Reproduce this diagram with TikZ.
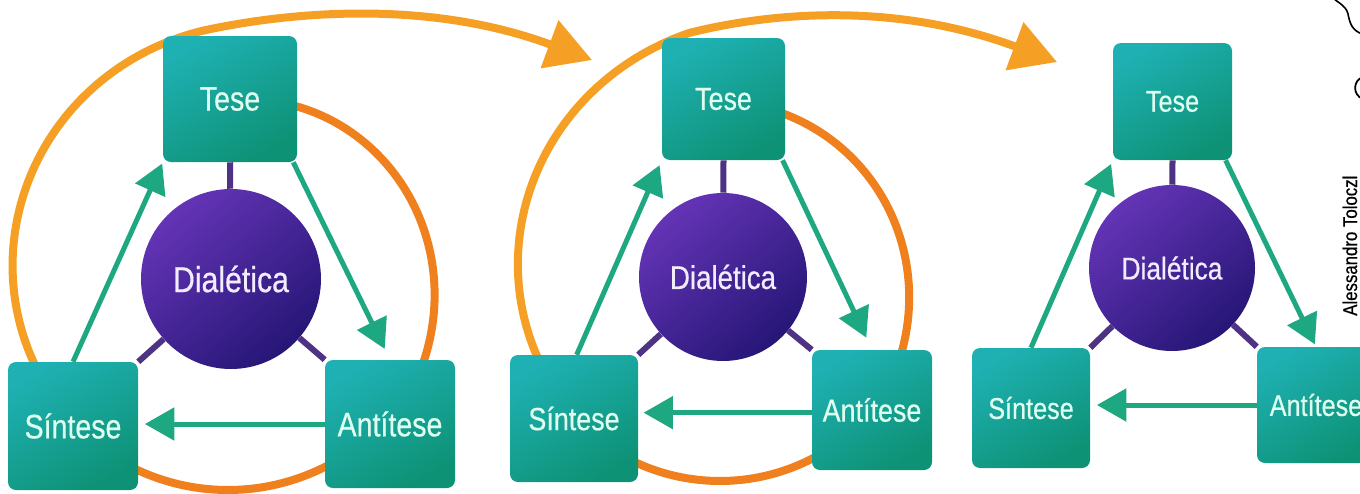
\documentclass[tikz,border=0pt]{standalone}
\usepackage{fontspec}
\setmainfont{Liberation Sans}[FakeStretch=0.84,FakeBold=0.5]
\usetikzlibrary{arrows.meta}
\definecolor{tealA}{RGB}{30,176,178}
\definecolor{tealB}{RGB}{14,146,118}
\definecolor{boxtext}{RGB}{222,255,240}
\definecolor{coretext}{RGB}{242,236,255}
\definecolor{vioA}{RGB}{100,52,182}
\definecolor{vioB}{RGB}{38,22,118}
\definecolor{vioLine}{RGB}{78,50,132}
\definecolor{arrowgreen}{RGB}{30,168,130}
\definecolor{orA}{RGB}{240,128,30}
\definecolor{orB}{RGB}{245,160,36}
\pgfdeclarelayer{back}
\pgfdeclarelayer{bg}
\pgfsetlayers{back,bg,main}
\begin{document}
\begin{tikzpicture}[x=0.75pt,y=-0.75pt,
  stage/.style={rectangle, rounded corners=6pt, top color=tealA, bottom color=tealB, shading angle=30, text=boxtext, inner sep=0pt},
  core/.style={circle, top color=vioA, bottom color=vioB, shading angle=40, text=coretext, inner sep=0pt},
  link/.style={draw=vioLine, line width=4.5pt},
  flow/.style={draw=arrowgreen, line width=3.75pt, -{Triangle[length=22pt,width=24pt]}},
  spiral/.style={draw=orA, line width=6pt, line cap=round},
  sweep/.style={draw=orB, line width=6pt, line cap=round, -{Triangle[length=34pt,width=37pt]}},
  labA/.style={font=\fontsize{25.5}{30}\selectfont},
  labB/.style={font=\fontsize{24}{28}\selectfont},
  labC/.style={font=\fontsize{22.5}{26}\selectfont},
]
\useasboundingbox (0,0) rectangle (1360,493);
\begin{pgfonlayer}{back}
  \fill[white] (0,0) rectangle (1360,493);
\end{pgfonlayer}
\clip (0,0) rectangle (1360,493);

% ---------- diagram 1 ----------
\node[stage, labA, minimum width=100.5pt, minimum height=94.5pt] (T1) at (230,99) {Tese};
\node[stage, labA, minimum width=97.5pt, minimum height=96pt] (S1) at (73,426) {Síntese};
\node[stage, labA, minimum width=97.5pt, minimum height=96pt] (A1) at (390,424) {Antítese};
\node[core, minimum size=135pt, font=\fontsize{27}{32}\selectfont] (C1) at (231,279) {Dialética};

% ---------- diagram 2 ----------
\node[stage, labB, minimum width=92.25pt, minimum height=91.5pt] (T2) at (723.5,99) {Tese};
\node[stage, labB, minimum width=96pt, minimum height=95.25pt] (S2) at (574,418.5) {Síntese};
\node[stage, labB, minimum width=90pt, minimum height=90pt] (A2) at (872,410) {Antítese};
\node[core, minimum size=126pt, font=\fontsize{24.7}{29}\selectfont] (C2) at (723,277) {Dialética};

% ---------- diagram 3 ----------
\node[stage, labC, minimum width=89.25pt, minimum height=87.75pt] (T3) at (1172.5,101.5) {Tese};
\node[stage, labC, minimum width=88.5pt, minimum height=90pt] (S3) at (1031,408) {Síntese};
\node[stage, labC, minimum width=88.5pt, minimum height=87pt] (A3) at (1316,405) {Antítese};
\node[core, minimum size=124.5pt, font=\fontsize{23.5}{28}\selectfont] (C3) at (1172,268) {Dialética};

\coordinate (n1) at (592,60);
\coordinate (n2) at (1057,62);

\begin{pgfonlayer}{bg}
  % purple links
  \draw[link] (T1.south) -- (C1);
  \draw[link] (S1.north east) -- (C1);
  \draw[link] (A1.north west) -- (C1);
  \draw[link] (T2.south) -- (C2);
  \draw[link] (S2.north east) -- (C2);
  \draw[link] (A2.north west) -- (C2);
  \draw[link] (T3.south) -- (C3);
  \draw[link] (S3.north east) -- (C3);
  \draw[link] (A3.north west) -- (C3);
  % orange spiral 1 (centre 228,275)
  \draw[spiral] plot[domain=-72:30, samples=50, smooth]
     ({228+(182+0.348*(\x+68))*cos(\x)}, {275+(182+0.348*(\x+68))*sin(\x)});
  \draw[spiral] plot[domain=58:120, samples=40, smooth]
     ({228+215*cos(\x)}, {275+215*sin(\x)});
  \draw[sweep] plot[domain=150:264.6, samples=60, smooth]
     ({228+(213+0.0025*(\x-150)^2)*cos(\x)}, {275+(213+0.0025*(\x-150)^2)*sin(\x)})
     .. controls (285,13) and (425,-2) .. (n1);
  % orange spiral 2 (centre 720,280)
  \draw[spiral] plot[domain=-74:28, samples=50, smooth]
     ({720+(178+0.0019*(\x+74)^2)*cos(\x)}, {280+(178+0.0019*(\x+74)^2)*sin(\x)});
  \draw[spiral] plot[domain=56:122, samples=40, smooth]
     ({720+201*cos(\x)}, {280+201*sin(\x)});
  \draw[sweep] plot[domain=150:263, samples=60, smooth]
     ({720+(198+0.004*(\x-150)^2)*cos(\x)}, {280+(198+0.004*(\x-150)^2)*sin(\x)})
     .. controls (765,14) and (890,0) .. (n2);
\end{pgfonlayer}

% green arrows
\draw[flow, shorten >=1pt] (S1.north) -- (T1.south west);
\draw[flow, shorten >=9pt] ([xshift=-3pt]T1.south east) -- (A1.north);
\draw[flow, shorten >=5pt] (A1.west) -- (A1.west -| S1.east);

\draw[flow, shorten >=4pt] ([xshift=2pt]S2.north) -- (T2.south west);
\draw[flow, shorten >=10pt] ([xshift=-2pt]T2.south east) -- (A2.north);
\draw[flow, shorten >=4pt] ([yshift=-2pt]A2.west) -- ([yshift=-2pt]A2.west -| S2.east);

\draw[flow, shorten >=3pt] (S3.north) -- (T3.south west);
\draw[flow, shorten >=2pt] ([xshift=-5pt]T3.south east) -- (A3.north);
\draw[flow, shorten >=5pt] (A3.west) -- (A3.west -| S3.east);

% credit and cut-off sketch at the right edge
\node[rotate=90, anchor=base west, inner sep=0pt, font=\fontsize{15}{18}\selectfont] (cred) at (1357,316) {Alessandro Toloczl};
\draw[line width=1.2pt, line cap=round] (1333,-2) .. controls (1340,4) and (1346,6) .. (1348,14)
   .. controls (1350,24) and (1352,30) .. (1362,34);
\draw[line width=1.3pt] (1363,77) .. controls (1353,80) and (1352,95) .. (1363,99);
\end{tikzpicture}
\end{document}
